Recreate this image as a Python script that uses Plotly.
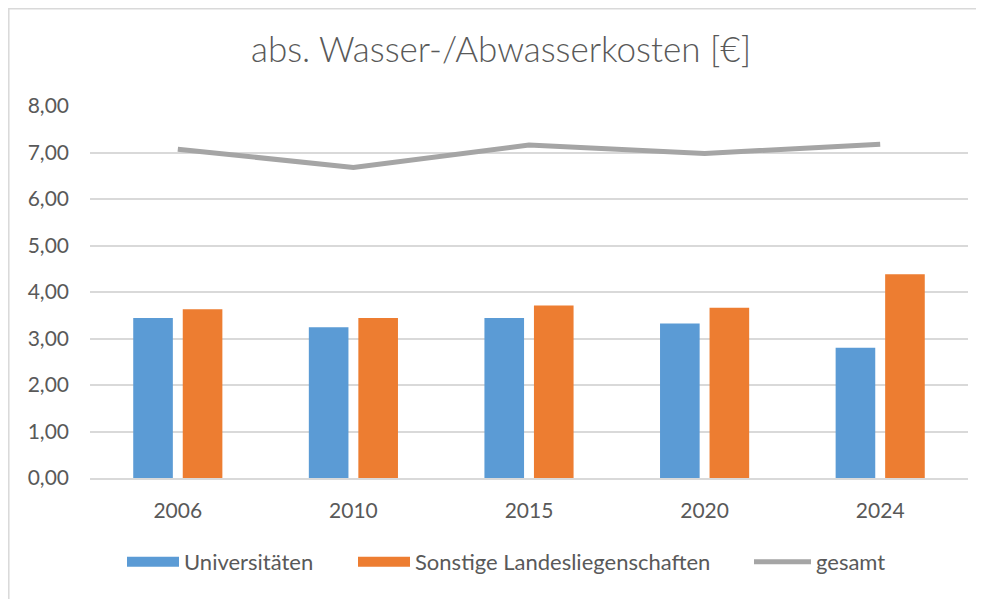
import plotly.graph_objects as go

years = ["2006", "2010", "2015", "2020", "2024"]
universitaeten = [3.44, 3.24, 3.44, 3.32, 2.80]
sonstige = [3.63, 3.44, 3.71, 3.66, 4.38]
gesamt = [7.07, 6.68, 7.16, 6.98, 7.18]
y_ticks = [0, 1, 2, 3, 4, 5, 6, 7, 8]

FONT = "Lato"
GREY_TXT = "#595959"
BLUE, ORANGE, GREY = "#5B9BD5", "#ED7D31", "#A5A5A5"

# plot area in figure pixel coordinates
L, R, T, B = 82, 960, 98, 470
PW, PH = R - L, B - T

fig = go.Figure()
fig.add_trace(go.Bar(x=years, y=universitaeten, name="Universitäten",
                     legendgroup="uni", showlegend=False,
                     marker=dict(color=BLUE, line=dict(width=0))))
fig.add_trace(go.Bar(x=years, y=sonstige, name="Sonstige Landesliegenschaften",
                     legendgroup="son", showlegend=False,
                     marker=dict(color=ORANGE, line=dict(width=0))))
fig.add_trace(go.Scatter(x=years, y=gesamt, name="gesamt", mode="lines",
                         legendgroup="ges", showlegend=False,
                         line=dict(color=GREY, width=5)))
# legend entries (wide rectangular swatches as in the original), each in own legend
entries = [("Universitäten", BLUE, 12, "uni", "legend", 114, 52),
           ("Sonstige Landesliegenschaften", ORANGE, 12, "son", "legend2", 345, 52),
           ("gesamt", GREY, 5, "ges", "legend3", 741, 57)]
legend_layout = {}
for name, col, w, grp, lg, fx, iw in entries:
    fig.add_trace(go.Scatter(x=[None], y=[None], mode="lines", name=name,
                             legendgroup=grp, legend=lg,
                             line=dict(color=col, width=w)))
    legend_layout[lg] = dict(orientation="h", x=(fx - L) / PW, xanchor="left",
                             y=(B - 554) / PH, yanchor="middle", itemwidth=iw,
                             font=dict(family=FONT, size=22, color=GREY_TXT),
                             bgcolor="rgba(0,0,0,0)")

# chart border (top and left edges visible)
fig.add_shape(type="rect", xref="paper", yref="paper",
              x0=(0.8 - L) / PW, x1=(1100 - L) / PW,
              y0=(B - 700) / PH, y1=(B - 0.8) / PH,
              line=dict(color="#D9D9D9", width=1.5), fillcolor="rgba(0,0,0,0)",
              layer="below")

fig.update_layout(
    width=984, height=599,
    margin=dict(l=L, r=984 - R, t=T, b=599 - B),
    paper_bgcolor="white", plot_bgcolor="white",
    separators=",.",
    font=dict(family=FONT, color=GREY_TXT, size=21),
    title=dict(text="abs. Wasser-/Abwasserkosten [€]", x=(493 - L) / PW, xref="paper",
               xanchor="center", y=1 - 42 / 599, yanchor="middle",
               font=dict(family=FONT, size=35, color=GREY_TXT, weight=300)),
    barmode="group", bargap=0.436, bargroupgap=0.2,
    xaxis=dict(showgrid=False, showline=True, linecolor="#D9D9D9", linewidth=1.5,
               range=[-0.5, 4.5], ticks="", ticklabelstandoff=13,
               tickfont=dict(size=21)),
    yaxis=dict(range=[0, 8], tickvals=y_ticks, tickformat=".2f",
               showgrid=True, gridcolor="#D9D9D9", gridwidth=1.5,
               zeroline=False, showline=False, ticks="",
               ticklabelstandoff=20, tickfont=dict(size=21)),
    **legend_layout,
)

fig.write_html("out.html")
